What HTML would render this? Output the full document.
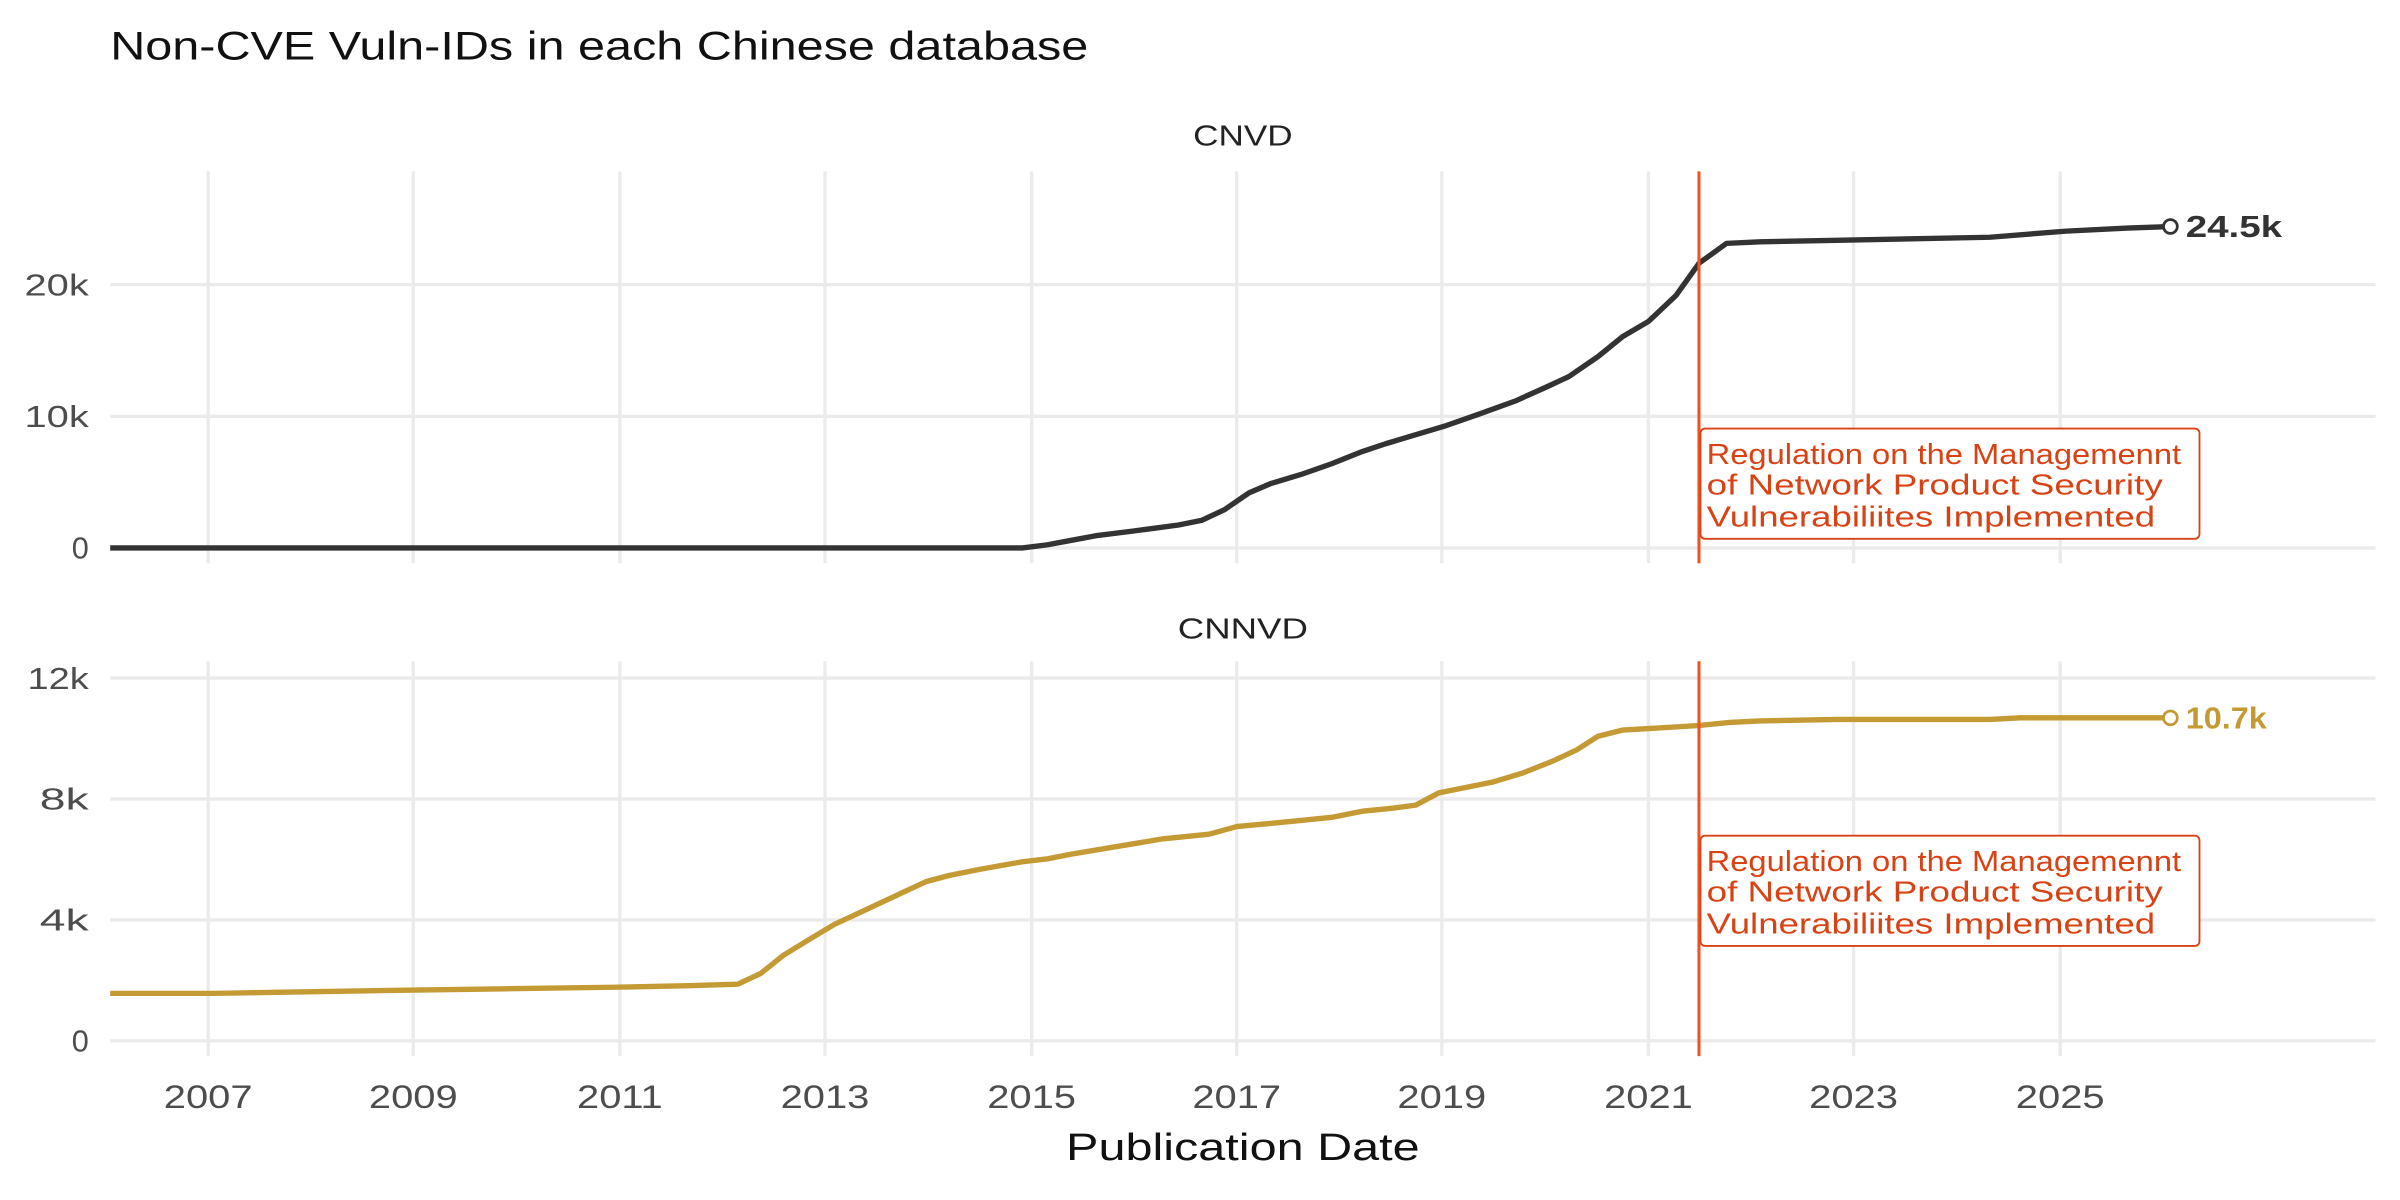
<!DOCTYPE html>
<html><head><meta charset="utf-8"><style>html,body{margin:0;padding:0;background:#fff}svg{display:block}text{font-family:"Liberation Sans",sans-serif}</style></head>
<body>
<svg width="2400" height="1200" viewBox="0 0 1568 784" xmlns="http://www.w3.org/2000/svg">
<rect width="1568" height="784" fill="#fff"/>
<text x="72" y="39" font-size="26" fill="#111" textLength="639" lengthAdjust="spacingAndGlyphs">Non-CVE Vuln-IDs in each Chinese database</text>
<text x="812" y="95" font-size="19" fill="#222" text-anchor="middle" textLength="65" lengthAdjust="spacingAndGlyphs">CNVD</text>
<text x="812" y="417" font-size="19" fill="#222" text-anchor="middle" textLength="85" lengthAdjust="spacingAndGlyphs">CNNVD</text>
<g stroke="#ebebeb" stroke-width="2.2">
<line x1="72" x2="1552" y1="358" y2="358"/><line x1="72" x2="1552" y1="272" y2="272"/><line x1="72" x2="1552" y1="186" y2="186"/>
<line x1="136" x2="136" y1="112" y2="368"/><line x1="270" x2="270" y1="112" y2="368"/><line x1="405" x2="405" y1="112" y2="368"/><line x1="539" x2="539" y1="112" y2="368"/><line x1="674" x2="674" y1="112" y2="368"/><line x1="808" x2="808" y1="112" y2="368"/><line x1="942" x2="942" y1="112" y2="368"/><line x1="1077" x2="1077" y1="112" y2="368"/><line x1="1211" x2="1211" y1="112" y2="368"/><line x1="1346" x2="1346" y1="112" y2="368"/>
<line x1="72" x2="1552" y1="680" y2="680"/><line x1="72" x2="1552" y1="601" y2="601"/><line x1="72" x2="1552" y1="522" y2="522"/><line x1="72" x2="1552" y1="443" y2="443"/>
<line x1="136" x2="136" y1="432" y2="690"/><line x1="270" x2="270" y1="432" y2="690"/><line x1="405" x2="405" y1="432" y2="690"/><line x1="539" x2="539" y1="432" y2="690"/><line x1="674" x2="674" y1="432" y2="690"/><line x1="808" x2="808" y1="432" y2="690"/><line x1="942" x2="942" y1="432" y2="690"/><line x1="1077" x2="1077" y1="432" y2="690"/><line x1="1211" x2="1211" y1="432" y2="690"/><line x1="1346" x2="1346" y1="432" y2="690"/>
</g>
<g font-size="20" fill="#4d4d4d" text-anchor="end">
<text x="58" y="365">0</text><text x="58" y="279" textLength="42" lengthAdjust="spacingAndGlyphs">10k</text><text x="58" y="193" textLength="42" lengthAdjust="spacingAndGlyphs">20k</text>
<text x="58" y="687">0</text><text x="58" y="608" textLength="32" lengthAdjust="spacingAndGlyphs">4k</text><text x="58" y="529" textLength="32" lengthAdjust="spacingAndGlyphs">8k</text><text x="58" y="450" textLength="40" lengthAdjust="spacingAndGlyphs">12k</text>
</g>
<g font-size="21" fill="#4d4d4d">
<text x="107" y="724" textLength="58" lengthAdjust="spacingAndGlyphs">2007</text><text x="241" y="724" textLength="58" lengthAdjust="spacingAndGlyphs">2009</text><text x="377" y="724" textLength="56" lengthAdjust="spacingAndGlyphs">2011</text><text x="510" y="724" textLength="58" lengthAdjust="spacingAndGlyphs">2013</text><text x="645" y="724" textLength="58" lengthAdjust="spacingAndGlyphs">2015</text><text x="779" y="724" textLength="58" lengthAdjust="spacingAndGlyphs">2017</text><text x="913" y="724" textLength="58" lengthAdjust="spacingAndGlyphs">2019</text><text x="1048" y="724" textLength="58" lengthAdjust="spacingAndGlyphs">2021</text><text x="1182" y="724" textLength="58" lengthAdjust="spacingAndGlyphs">2023</text><text x="1317" y="724" textLength="58" lengthAdjust="spacingAndGlyphs">2025</text>
</g>
<text x="812" y="758" font-size="25" fill="#111" text-anchor="middle" textLength="231" lengthAdjust="spacingAndGlyphs">Publication Date</text>
<polyline fill="none" stroke="#333" stroke-width="3.5" stroke-linejoin="round" points="72,358 668,358 684,356 700,353 716,350 740,347 770,343 785,340 800,333 816,322 830,316 850,310 870,303 890,295 905,290 925,284 945,278 965,271 990,262 1010,253 1025,246 1044,233 1060,220 1077,210 1095,193 1110,172 1128,159 1150,158 1200,157 1300,155 1350,151 1390,149 1418,148"/>
<circle cx="1418" cy="148" r="4.5" fill="#fff" stroke="#333" stroke-width="1.8"/>
<text x="1428" y="155" font-size="20" font-weight="bold" fill="#333" textLength="63" lengthAdjust="spacingAndGlyphs">24.5k</text>
<polyline fill="none" stroke="#c49a34" stroke-width="3.5" stroke-linejoin="round" points="72,649 140,649 200,648 260,647 330,646 400,645 450,644 482,643 497,636 512,624 530,613 545,604 560,597 575,590 590,583 605,576 620,572 640,568 668,563 685,561 700,558 730,553 760,548 790,545 808,540 830,538 850,536 870,534 890,530 910,528 925,526 940,518 975,511 995,505 1015,497 1030,490 1044,481 1060,477 1077,476 1110,474 1130,472 1150,471 1200,470 1300,470 1320,469 1418,469"/>
<circle cx="1418" cy="469" r="4.5" fill="#fff" stroke="#c49a34" stroke-width="1.8"/>
<text x="1428" y="476" font-size="20" font-weight="bold" fill="#c49a34" textLength="53" lengthAdjust="spacingAndGlyphs">10.7k</text>
<line x1="1110" x2="1110" y1="112" y2="368" stroke="#f4511e" stroke-width="2"/>
<line x1="1110" x2="1110" y1="432" y2="690" stroke="#f4511e" stroke-width="2"/>
<g fill="#d84315" font-size="19">
<rect x="1111" y="280" width="326" height="72" rx="3" fill="#fff" stroke="#d84315" stroke-width="1.2"/>
<text x="1115" y="303" textLength="310" lengthAdjust="spacingAndGlyphs">Regulation on the Managemennt</text>
<text x="1115" y="323" textLength="298" lengthAdjust="spacingAndGlyphs">of Network Product Security</text>
<text x="1115" y="344" textLength="293" lengthAdjust="spacingAndGlyphs">Vulnerabiliites Implemented</text>
<rect x="1111" y="546" width="326" height="72" rx="3" fill="#fff" stroke="#d84315" stroke-width="1.2"/>
<text x="1115" y="569" textLength="310" lengthAdjust="spacingAndGlyphs">Regulation on the Managemennt</text>
<text x="1115" y="589" textLength="298" lengthAdjust="spacingAndGlyphs">of Network Product Security</text>
<text x="1115" y="610" textLength="293" lengthAdjust="spacingAndGlyphs">Vulnerabiliites Implemented</text>
</g>
</svg>
</body></html>
